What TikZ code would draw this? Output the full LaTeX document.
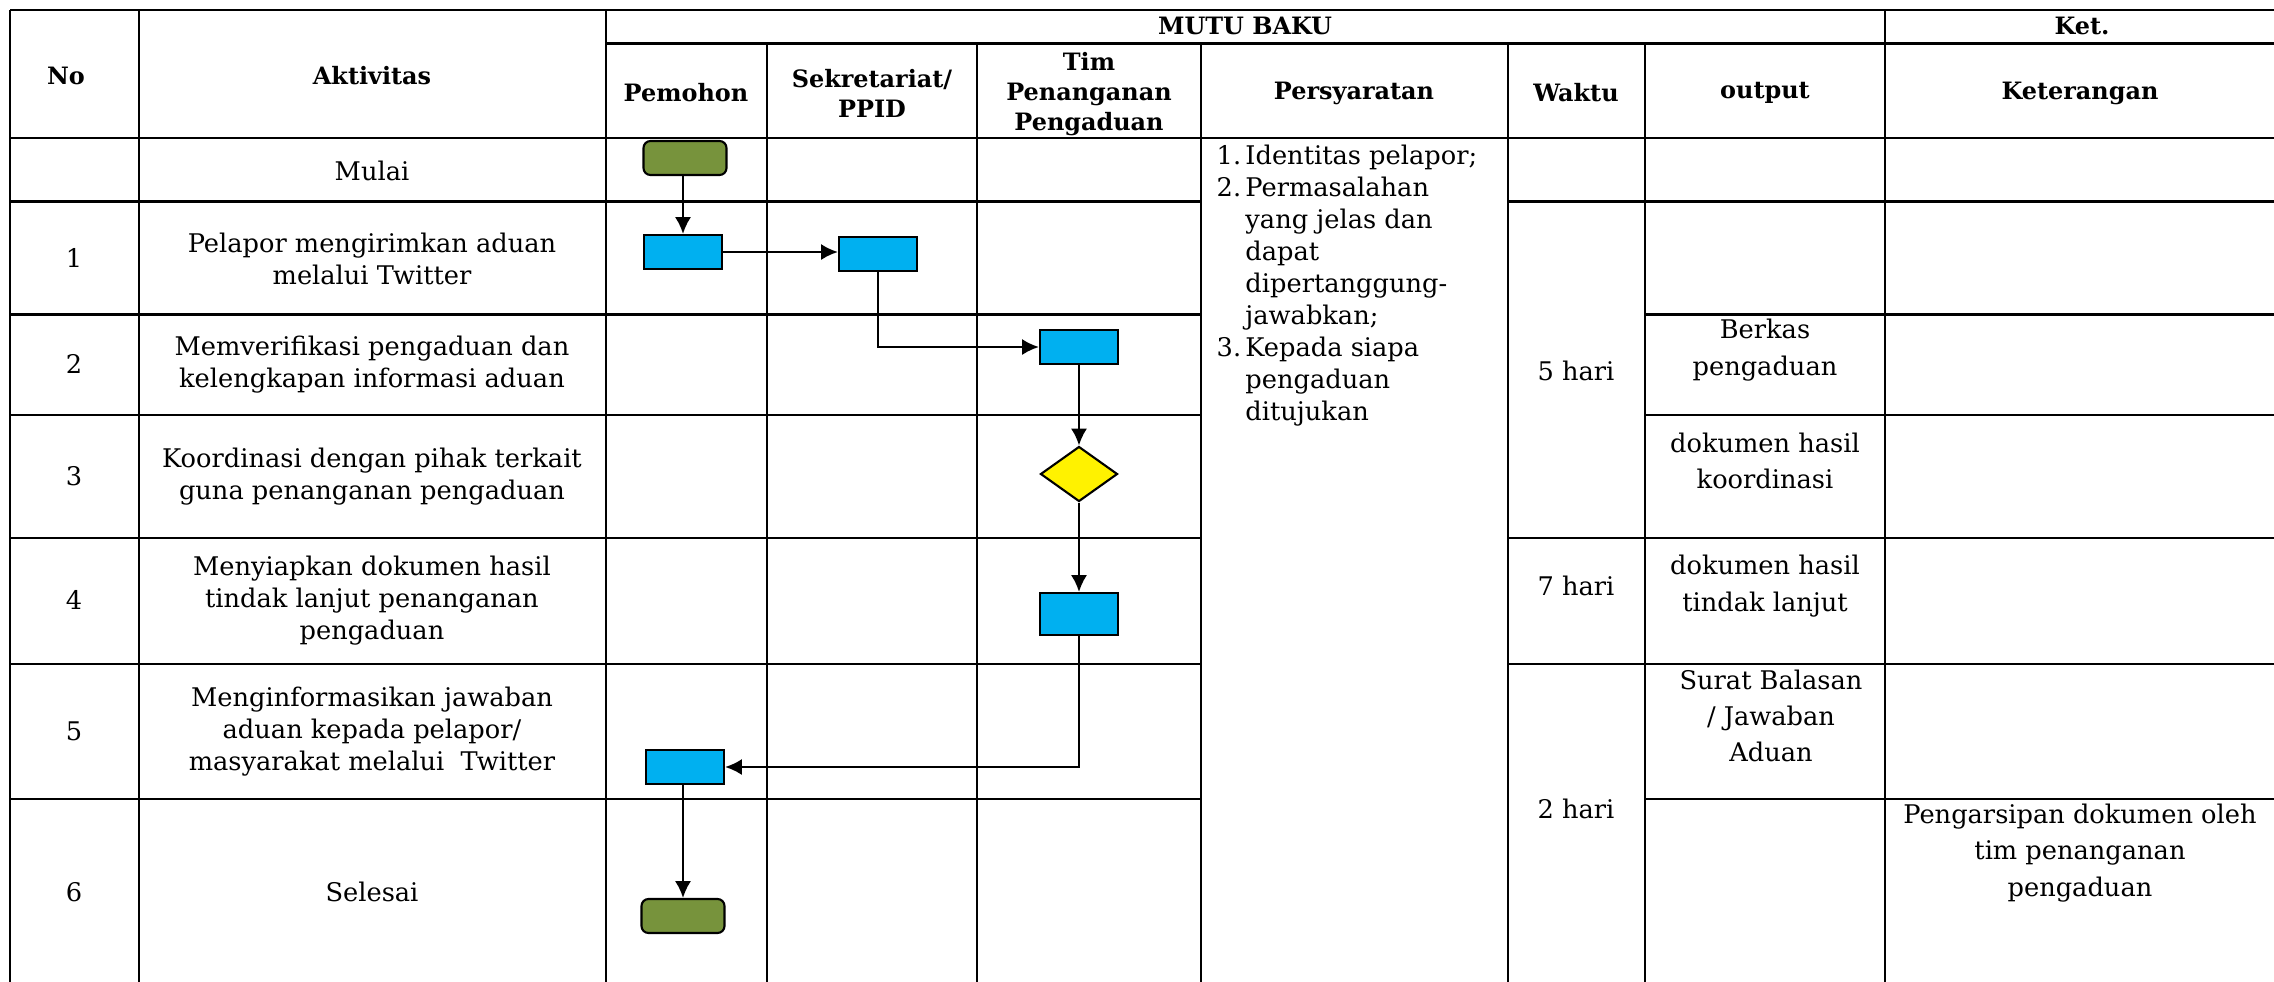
\documentclass[tikz,border=0pt]{standalone}
\usepackage{fontspec}
\setmainfont{DejaVu Serif}
\usepackage{tikz}
\usetikzlibrary{arrows.meta}
\usetikzlibrary{shapes.geometric}

\definecolor{termgreen}{HTML}{77933C}
\definecolor{procblue}{HTML}{00B0F0}

\begin{document}
\begin{tikzpicture}[x=0.01cm,y=-0.01cm,
    grid/.style={line width=0.7pt},
    hd/.style={font=\fontsize{6.8}{8.5}\selectfont\bfseries,align=center,inner sep=0pt},
    tx/.style={font=\fontsize{7.3}{9.1}\selectfont,align=center,inner sep=0pt},
    txw/.style={font=\fontsize{7.3}{10.3}\selectfont,align=center,inner sep=0pt},
    term/.style={draw,line width=0.6pt,rounded corners=2pt,fill=termgreen,minimum width=0.83cm,minimum height=0.34cm,inner sep=0pt},
    proc/.style={draw,line width=0.6pt,fill=procblue,minimum width=0.78cm,minimum height=0.34cm,inner sep=0pt},
    dec/.style={draw,line width=0.6pt,diamond,fill=yellow,minimum width=0.77cm,minimum height=0.55cm,inner sep=0pt},
    flow/.style={line width=0.65pt,-{Latex[length=4.8pt,width=4.6pt]}}]

    \useasboundingbox (0,0) rectangle (2274,981);

    %table
    \draw[grid] (10,10) -- (2290,10);
    \draw[grid] (606,43.5) -- (2290,43.5);
    \draw[grid] (10,138) -- (2290,138);
    \foreach \y in {201.6,314.7,414.8,538,664,799} {
        \draw[grid] (10,\y) -- (1201,\y);
    }
    \foreach \y in {201.6,538,664} {
        \draw[grid] (1508,\y) -- (2290,\y);
    }
    \foreach \y in {314.7,414.8,799} {
        \draw[grid] (1645,\y) -- (2290,\y);
    }
    \foreach \x in {10,139,606,1885} {
        \draw[grid] (\x,10) -- (\x,995);
    }
    \foreach \x in {767,977,1201,1508,1645} {
        \draw[grid] (\x,43.5) -- (\x,995);
    }

    %header
    \node[hd] (hno) at (66,76) {No};
    \node[hd] (hakt) at (372,76) {Aktivitas};
    \node[hd] (hmutu) at (1245,26) {MUTU BAKU};
    \node[hd] (hket) at (2082,26) {Ket.};
    \node[hd] (hpem) at (686,93) {Pemohon};
    \node[hd] (hsek) at (872,93) {Sekretariat/\\PPID};
    \node[hd] (htim) at (1089,94) {Tim\\Penanganan\\Pengaduan};
    \node[hd] (hsyarat) at (1354,93) {Persyaratan};
    \node[hd] (hwaktu) at (1576,93) {Waktu};
    \node[hd] (hout) at (1765,93) {output};
    \node[hd] (hketerangan) at (2080,93) {Keterangan};

    %no
    \node[tx] (n1) at (74,258) {1};
    \node[tx] (n2) at (74,364) {2};
    \node[tx] (n3) at (74,476) {3};
    \node[tx] (n4) at (74,600) {4};
    \node[tx] (n5) at (74,731) {5};
    \node[tx] (n6) at (74,892) {6};

    %aktivitas
    \node[tx] (a0) at (372,171) {Mulai};
    \node[tx] (a1) at (372,259) {Pelapor mengirimkan aduan\\melalui Twitter};
    \node[tx] (a2) at (372,365) {Memverifikasi pengaduan dan\\kelengkapan informasi aduan};
    \node[tx] (a3) at (372,477) {Koordinasi dengan pihak terkait\\guna penanganan pengaduan};
    \node[tx] (a4) at (372,601) {Menyiapkan dokumen hasil\\tindak lanjut penanganan\\pengaduan};
    \node[tx] (a5) at (372,732) {Menginformasikan jawaban\\aduan kepada pelapor/\\masyarakat melalui\ \ Twitter};
    \node[tx] (a6) at (372,892) {Selesai};

    %persyaratan
    \node[tx,anchor=north west,align=left] (syarat) at (1216,141) {%
        \begin{tabular}{@{}l@{\,}l@{}}
        1. & Identitas pelapor;\\
        2. & Permasalahan\\
           & yang jelas dan\\
           & dapat\\
           & dipertanggung-\\
           & jawabkan;\\
        3. & Kepada siapa\\
           & pengaduan\\
           & ditujukan
        \end{tabular}};

    %waktu
    \node[tx] (w1) at (1576,371) {5 hari};
    \node[tx] (w4) at (1576,586) {7 hari};
    \node[tx] (w5) at (1576,809) {2 hari};

    %output, keterangan
    \node[txw] (o2) at (1765,350) {Berkas\\pengaduan};
    \node[txw] (o3) at (1765,461) {dokumen hasil\\koordinasi};
    \node[txw] (o4) at (1765,586) {dokumen hasil\\tindak lanjut};
    \node[txw] (o5) at (1771,716) {Surat Balasan\\/ Jawaban\\Aduan};
    \node[txw] (k6) at (2080,853) {Pengarsipan dokumen oleh\\tim penanganan\\pengaduan};

    %flow
    \node[term] (m0) at (685,158) {};
    \node[proc] (p1) at (683,252) {};
    \node[proc] (s1) at (878,254) {};
    \node[proc] (t2) at (1079,347) {};
    \node[dec] (d3) at (1079,474) {};
    \node[proc,minimum height=0.42cm] (t4) at (1079,614) {};
    \node[proc] (p5) at (685,767) {};
    \node[term] (e6) at (683,916) {};

    \draw[flow] (m0.south -| p1) -- (p1);
    \draw[flow] (p1) -- (s1.west |- p1);
    \draw[flow] (s1.south) |- (t2.west);
    \draw[flow] (t2) -- (d3);
    \draw[flow] (d3) -- (t4);
    \draw[flow] (t4.south) |- (p5.east);
    \draw[flow] (p5.south -| e6) -- (e6);

\end{tikzpicture}
\end{document}
